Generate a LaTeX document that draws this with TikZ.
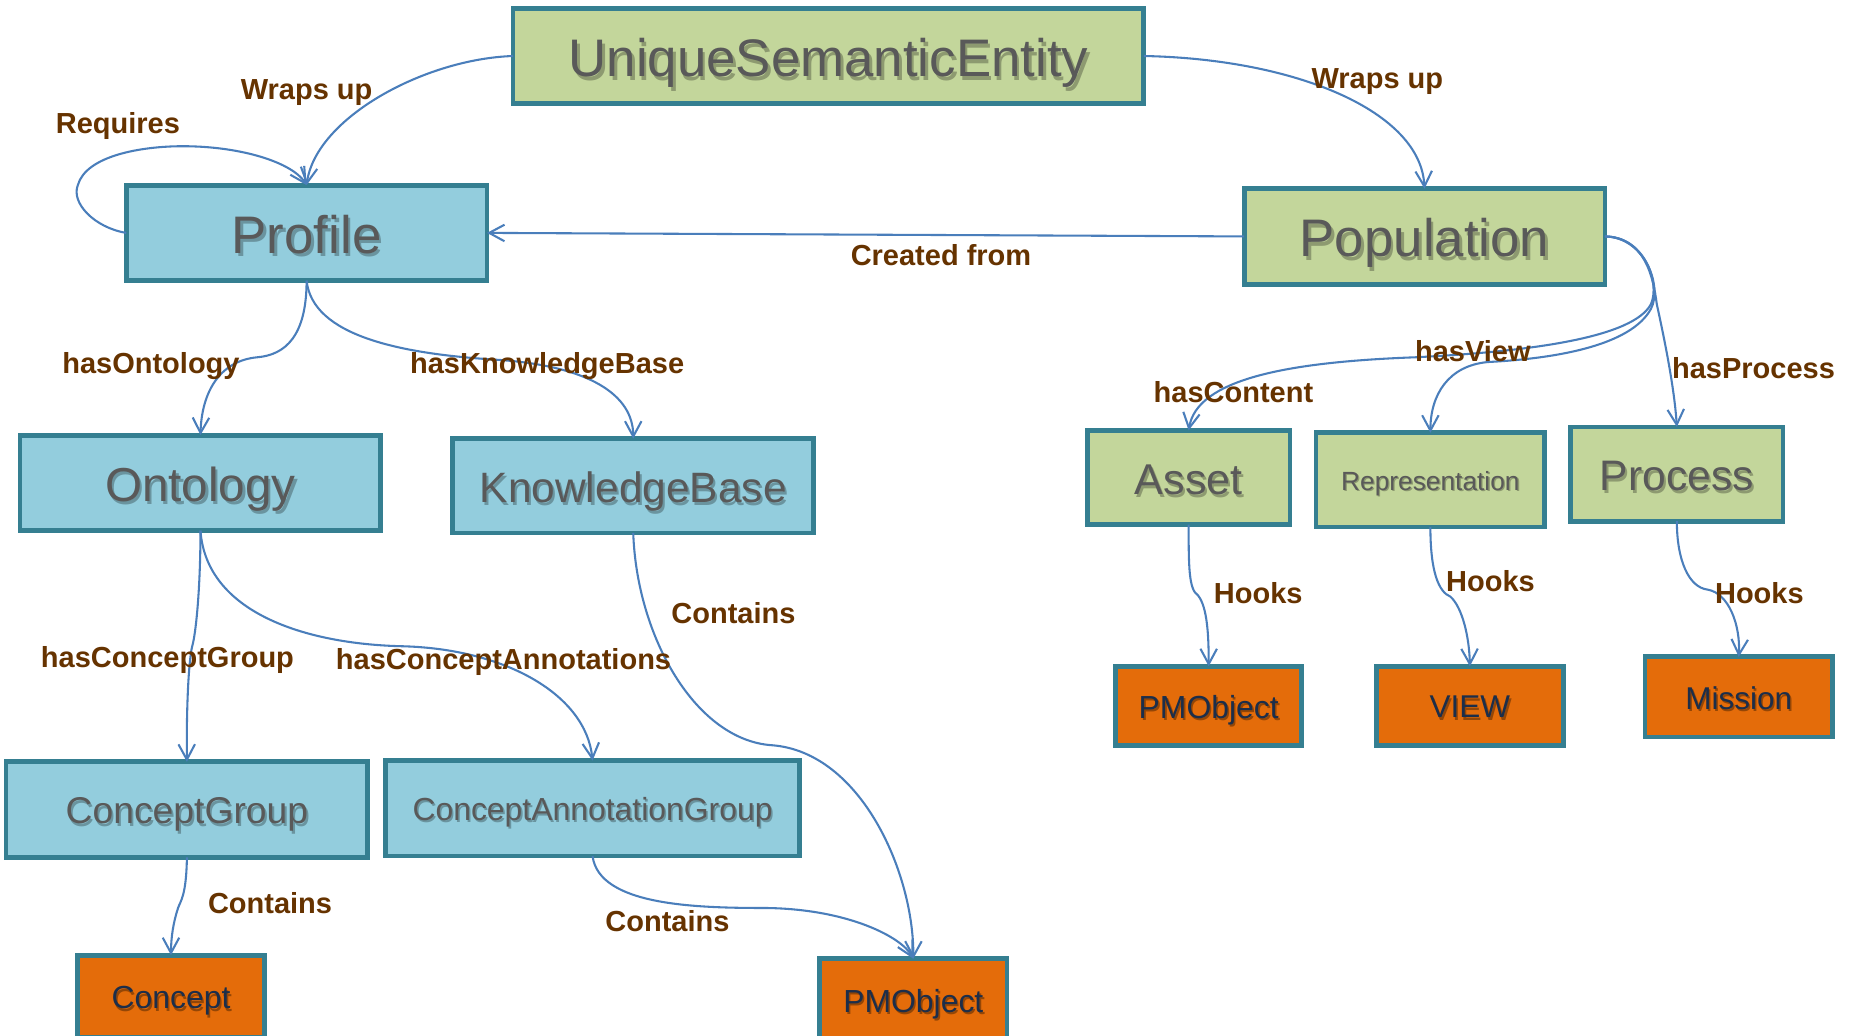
\documentclass[tikz,border=0pt]{standalone}
\usepackage{fontspec}
\setmainfont{Liberation Sans}
\usetikzlibrary{arrows.meta}

\definecolor{blueF}{HTML}{93CDDD}
\definecolor{greenF}{HTML}{C3D69B}
\definecolor{orangeF}{HTML}{E46C0A}
\definecolor{edgeC}{HTML}{357F91}
\definecolor{txtG}{HTML}{595959}
\definecolor{txtN}{HTML}{1C2E4A}
\definecolor{lblC}{HTML}{663300}
\definecolor{lineC}{HTML}{4A7EBB}

% text with a soft drop shadow below and to the right
\newcommand{\shtx}[2]{\makebox[0pt][l]{\hspace*{0.05em}\raisebox{-0.07em}{\textcolor{#1}{#2}}}#2}
\newcommand{\fsz}[1]{\fontsize{#1}{#1}\selectfont}

\tikzset{
  box/.style={draw=edgeC, line width=2.3pt, inner sep=0pt, outer sep=0pt, text depth=0pt},
  bluebox/.style={box, fill=blueF, text=txtG},
  greenbox/.style={box, fill=greenF, text=txtG},
  orangebox/.style={box, fill=orangeF, text=txtN},
  lbl/.style={text=lblC, font=\bfseries\fsz{14}, inner sep=0pt,
    text height=10.2pt, text depth=0pt},
  conn/.style={draw=lineC, line width=1pt, -{Straight Barb[length=2.6mm,width=2.8mm]}}
}

\begin{document}
\begin{tikzpicture}[x=0.02cm, y=-0.02cm]
\clip (0,0) rectangle (1568,878);
\fill[white] (0,0) rectangle (1568,878);

% entity boxes
\node[greenbox, minimum width=10.7cm, minimum height=1.62cm, font=\fsz{25.5}, text height=19.6pt] (use) at (702.5,47.5) {\shtx{greenF!72!black}{UniqueSemanticEntity}};
\node[bluebox, minimum width=6.12cm, minimum height=1.62cm, font=\fsz{25.5}, text height=19.6pt] (profile) at (260,197.5) {\shtx{blueF!72!black}{Profile}};
\node[greenbox, minimum width=6.12cm, minimum height=1.62cm, font=\fsz{25.5}, text height=19.6pt] (population) at (1208,200.5) {\shtx{greenF!72!black}{Population}};
\node[bluebox, minimum width=6.12cm, minimum height=1.62cm, font=\fsz{23}, text height=17.7pt] (ontology) at (170,409.5) {\shtx{blueF!72!black}{Ontology}};
\node[bluebox, minimum width=6.12cm, minimum height=1.6cm, font=\fsz{20.5}, text height=15.8pt] (kb) at (537,412) {\shtx{blueF!72!black}{KnowledgeBase}};
\node[greenbox, minimum width=3.44cm, minimum height=1.6cm, font=\fsz{20.8}, text height=16pt] (asset) at (1008,405) {\shtx{greenF!72!black}{Asset}};
\node[greenbox, minimum width=3.88cm, minimum height=1.6cm, font=\fsz{12.7}, text height=9.8pt] (repr) at (1213,407) {\shtx{greenF!72!black}{Representation}};
\node[greenbox, minimum width=3.6cm, minimum height=1.6cm, font=\fsz{20.6}, text height=15.9pt] (process) at (1422,402) {\shtx{greenF!72!black}{Process}};
\node[bluebox, minimum width=6.14cm, minimum height=1.62cm, font=\fsz{18}, text height=13.9pt] (cg) at (158.5,686.5) {\shtx{blueF!72!black}{ConceptGroup}};
\node[bluebox, minimum width=7.02cm, minimum height=1.62cm, font=\fsz{15.4}, text height=11.9pt] (cag) at (502.5,685.5) {\shtx{blueF!72!black}{ConceptAnnotationGroup}};
\node[orangebox, minimum width=3.16cm, minimum height=1.4cm, font=\fsz{15.4}, text height=11.9pt] (concept) at (145,845) {\shtx{orangeF!65!black}{Concept}};
\node[orangebox, minimum width=3.18cm, minimum height=1.4cm, font=\fsz{15.4}, text height=11.9pt] (pmb) at (774.5,848) {\shtx{orangeF!65!black}{PMObject}};
\node[orangebox, minimum width=3.16cm, minimum height=1.34cm, font=\fsz{15.4}, text height=11.9pt] (pmr) at (1025,598.5) {\shtx{orangeF!65!black}{PMObject}};
\node[orangebox, minimum width=3.18cm, minimum height=1.34cm, font=\fsz{15.2}, text height=11.7pt] (view) at (1246.5,598.5) {\shtx{orangeF!65!black}{VIEW}};
\node[orangebox, minimum width=3.18cm, minimum height=1.36cm, font=\fsz{15.2}, text height=11.7pt] (mission) at (1474.5,591) {\shtx{orangeF!65!black}{Mission}};

% relations
\draw[conn] (use.west) .. controls (360,50) and (268,100) .. (profile.north);
\draw[conn] (use.east) .. controls (1100,50) and (1205,95) .. (population.north);
\draw[conn] (profile.west) .. controls (80,193) and (60,172) .. (66,157)
  .. controls (73,132) and (120,124) .. (155,124)
  .. controls (205,124) and (248,138) .. (profile.north);
\draw[conn] (population.west) -- (profile.east);
\draw[conn] (profile.south) .. controls (260,285) and (242,301) .. (218,303)
  .. controls (186,306) and (171,333) .. (ontology.north);
\draw[conn] (profile.south) .. controls (265,285) and (340,300) .. (420,305)
  .. controls (500,310) and (537,335) .. (kb.north);
\draw[conn] (population.east) .. controls (1395,201) and (1408,240) .. (1400,258)
  .. controls (1385,286) and (1300,298) .. (1200,303)
  .. controls (1090,307) and (1015,322) .. (asset.north);
\draw[conn] (population.east) .. controls (1395,201) and (1410,243) .. (1400,262)
  .. controls (1383,293) and (1320,304) .. (1262,307)
  .. controls (1228,310) and (1213,335) .. (repr.north);
\draw[conn] (population.east) .. controls (1395,201) and (1402,235) .. (1405,258)
  .. controls (1412,290) and (1420,330) .. (process.north);
\draw[conn] (ontology.south) .. controls (170,500) and (166,538) .. (163,548)
  .. controls (160,560) and (158,600) .. (cg.north);
\draw[conn] (ontology.south) .. controls (175,520) and (260,546) .. (340,548)
  .. controls (430,550) and (497,590) .. (cag.north);
\draw[conn] (kb.south) .. controls (540,540) and (590,628) .. (655,632)
  .. controls (730,638) and (775,740) .. (pmb.north);
\draw[conn] (cg.south) .. controls (158,760) and (153,764) .. (151,770)
  .. controls (147,782) and (145,795) .. (concept.north);
\draw[conn] (cag.south) .. controls (508,768) and (590,770) .. (650,770)
  .. controls (720,771) and (765,795) .. (pmb.north);
\draw[conn] (asset.south) .. controls (1008,480) and (1008,500) .. (1016,505)
  .. controls (1024,515) and (1025,540) .. (pmr.north);
\draw[conn] (repr.south) .. controls (1213,485) and (1220,502) .. (1230,506)
  .. controls (1240,515) and (1246,540) .. (view.north);
\draw[conn] (process.south) .. controls (1422,475) and (1432,498) .. (1448,500)
  .. controls (1466,503) and (1476,530) .. (mission.north);

% relation labels
\node[lbl] (lwrap1) at (260,75) {Wraps up};
\node[lbl] (lreq) at (100,104) {Requires};
\node[lbl] (lwrap2) at (1168,66) {Wraps up};
\node[lbl] (lcreated) at (798,216) {Created from};
\node[lbl] (lhasont) at (128,308) {hasOntology};
\node[lbl] (lhaskb) at (464,308) {hasKnowledgeBase};
\node[lbl] (lhasview) at (1249,298) {hasView};
\node[lbl] (lhascontent) at (1046,332) {hasContent};
\node[lbl] (lhasproc) at (1487,312) {hasProcess};
\node[lbl] (lhook1) at (1067,503) {Hooks};
\node[lbl] (lhook2) at (1264,493) {Hooks};
\node[lbl] (lhook3) at (1492,503) {Hooks};
\node[lbl] (lcontkb) at (622,520) {Contains};
\node[lbl] (lhascg) at (142,557) {hasConceptGroup};
\node[lbl] (lhasca) at (427,559) {hasConceptAnnotations};
\node[lbl] (lcontcg) at (229,766) {Contains};
\node[lbl] (lcontcag) at (566,781) {Contains};
\end{tikzpicture}
\end{document}
